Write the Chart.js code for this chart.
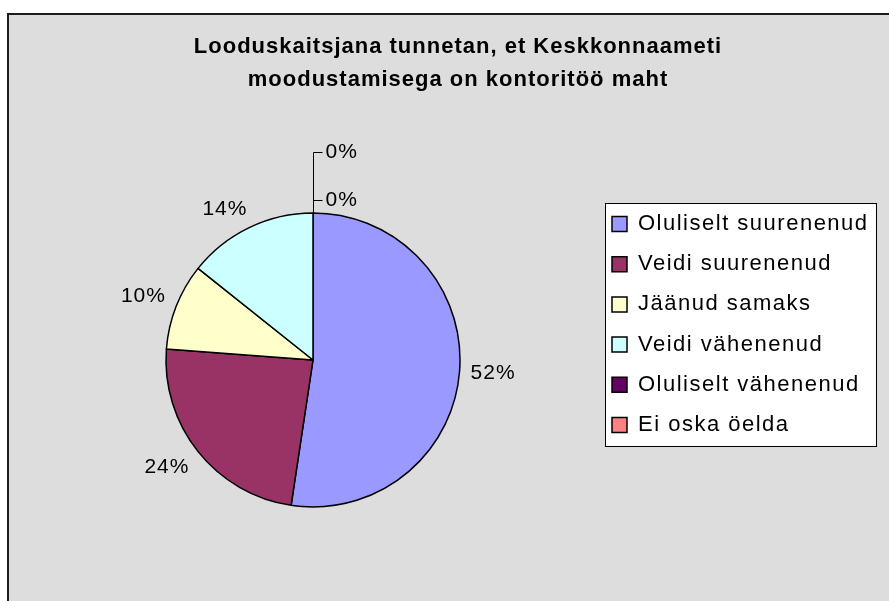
<!DOCTYPE html>
<html>
<head>
<meta charset="utf-8">
<script src="https://cdn.jsdelivr.net/npm/chart.js@4/dist/chart.umd.min.js"></script>
<style>
  html, body { margin: 0; padding: 0; background: #ffffff; }
  #wrap { width: 889px; height: 601px; }
</style>
</head>
<body>
<div id="wrap"><canvas id="c" width="889" height="601"></canvas></div>
<script>
// ---- data ----
const titleLines = ['Looduskaitsjana tunnetan, et Keskkonnaameti', 'moodustamisega on kontoritöö maht'];
const categories = ['Oluliselt suurenenud', 'Veidi suurenenud', 'Jäänud samaks', 'Veidi vähenenud', 'Oluliselt vähenenud', 'Ei oska öelda'];
const responses = [22, 10, 4, 6, 0, 0];
const sliceColors = ['#9999FF', '#993366', '#FFFFCC', '#CCFFFF', '#660066', '#FF8080'];

const FONT = '"Liberation Sans", Arial, sans-serif';

const framePlugin = {
  id: 'frame',
  beforeDraw(chart) {
    const ctx = chart.ctx;
    ctx.save();
    ctx.fillStyle = '#ffffff';
    ctx.fillRect(0, 0, chart.width, chart.height);
    ctx.fillStyle = '#DDDDDD';
    ctx.fillRect(9, 15, chart.width - 9, chart.height - 15);
    ctx.fillStyle = '#1c1c1c';
    ctx.fillRect(7, 13, 2, chart.height - 13);
    ctx.fillRect(7, 13, chart.width - 7, 2);
    // legend frame
    ctx.fillStyle = '#ffffff';
    ctx.fillRect(606, 204, 270, 242);
    ctx.strokeStyle = '#000000';
    ctx.lineWidth = 1;
    ctx.strokeRect(605.5, 203.5, 271, 243);
    ctx.restore();
  }
};

const placePlugin = {
  id: 'place',
  afterLayout(chart) {
    const t = chart.titleBlock, l = chart.legend;
    t.left = 27; t.right = 889; t.width = 862;
    l.left = 593.8; l.top = 194.8; l.right = 885; l.bottom = 601;
    l.width = l.right - l.left; l.height = l.bottom - l.top;
    if (!t._ls) {
      const d = t.draw.bind(t);
      t.draw = function (a) { const c = chart.ctx; c.letterSpacing = '1px'; d(a); c.letterSpacing = '0px'; };
      t._ls = true;
    }
    if (!l._ls) {
      const d = l.draw.bind(l);
      l.draw = function (a) { const c = chart.ctx; c.letterSpacing = '1.5px'; d(a); c.letterSpacing = '0px'; };
      l._ls = true;
    }
  }
};

const clamp1 = v => Math.max(-1, Math.min(1, v));

const labelPlugin = {
  id: 'pctLabels',
  afterDatasetsDraw(chart) {
    const ctx = chart.ctx;
    const meta = chart.getDatasetMeta(0);
    const vals = chart.data.datasets[0].data;
    const total = vals.reduce((a, b) => a + b, 0);
    ctx.save();
    ctx.font = '21px ' + FONT;
    ctx.letterSpacing = '1px';
    ctx.fillStyle = '#000';
    ctx.strokeStyle = '#000';
    ctx.lineWidth = 1;
    ctx.textBaseline = 'middle';
    let z = 0;
    meta.data.forEach((arc, i) => {
      const p = arc.getProps(['x', 'y', 'startAngle', 'endAngle', 'outerRadius'], true);
      const txt = Math.round(vals[i] / total * 100) + '%';
      if (vals[i] === 0) {
        const a = p.startAngle;
        const px = p.x + Math.cos(a) * p.outerRadius;
        const py = p.y + Math.sin(a) * p.outerRadius;
        const ly = Math.round(py - 13 - 48 * z) + 0.5;
        const lx = Math.round(px) + 0.5;
        ctx.beginPath();
        ctx.moveTo(lx, py);
        ctx.lineTo(lx, ly);
        ctx.lineTo(lx + 9, ly);
        ctx.stroke();
        ctx.textAlign = 'left';
        ctx.fillText(txt, lx + 12, ly);
        z++;
      } else {
        const mid = (p.startAngle + p.endAngle) / 2;
        const ux = Math.cos(mid), uy = Math.sin(mid);
        const d = p.outerRadius + 11;
        const w = ctx.measureText(txt).width, h = 17;
        const cx = p.x + ux * d + (w / 2) * clamp1(ux * 2);
        const cy = p.y + uy * d + (h / 2) * clamp1(uy * 2);
        ctx.textAlign = 'center';
        ctx.fillText(txt, cx, cy);
      }
    });
    ctx.restore();
  }
};

new Chart(document.getElementById('c'), {
  type: 'pie',
  data: {
    labels: categories,
    datasets: [{
      data: responses,
      backgroundColor: sliceColors,
      borderColor: '#000000',
      borderWidth: 1.5
    }]
  },
  options: {
    responsive: false,
    animation: false,
    radius: 147,
    layout: { padding: { left: 166, right: 429, top: 0, bottom: 94 } },
    plugins: {
      title: {
        display: true,
        text: titleLines,
        color: '#000000',
        font: { family: FONT, size: 22, weight: 'bold', lineHeight: 1.5 },
        padding: { top: 30.5, bottom: 116.5 }
      },
      legend: {
        display: true,
        position: 'chartArea',
        align: 'start',
        labels: {
          color: '#000000',
          font: { family: FONT, size: 22 },
          boxWidth: 15,
          boxHeight: 15,
          padding: 18.2
        }
      },
      tooltip: { enabled: false }
    }
  },
  plugins: [framePlugin, placePlugin, labelPlugin]
});
</script>
</body>
</html>
